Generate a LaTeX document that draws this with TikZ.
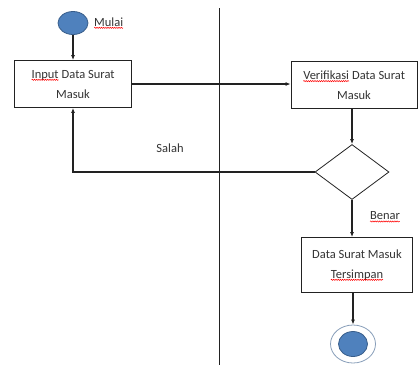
\documentclass[tikz,border=0pt]{standalone}
\usepackage{fontspec}
\setmainfont{Carlito}
\usepackage{xcolor}
\usetikzlibrary{positioning,arrows.meta,shapes.geometric,decorations.pathmorphing}

\definecolor{birumuda}{HTML}{4F81BD}
\definecolor{birutua}{HTML}{385D8A}
\definecolor{garis}{HTML}{222222}
\definecolor{teks}{HTML}{333333}

% kata dengan garis ejaan merah
\newcommand{\ejaan}[1]{\tikz[baseline=(w.base)]{%
  \node[inner sep=0pt, outer sep=0pt, draw=none, fill=none, rectangle,
        minimum width=0pt, minimum height=0pt] (w) {#1};
  \draw[red, line width=0.5pt, decorate, decoration={snake, amplitude=0.6pt, segment length=2.2pt}]
    ([yshift=-1.8pt]w.base west) -- ([yshift=-1.8pt]w.base east);}}

\begin{document}
\begin{tikzpicture}[
  x=1pt, y=-1pt,
  kotak/.style={rectangle, draw=garis, line width=0.8pt, align=center,
                font=\fontsize{12.5}{20}\selectfont, text=teks, inner sep=2pt},
  awal/.style={ellipse, draw=birutua, fill=birumuda, line width=0.8pt},
  keputusan/.style={diamond, draw=garis, line width=0.8pt, inner sep=0pt},
  panah/.style={-{Latex[length=5pt,width=4pt]}, line width=1.4pt, draw=garis},
  label/.style={font=\fontsize{12.5}{14}\selectfont, text=teks}
]
\useasboundingbox (0,0) rectangle (419,365);

% Swimlane
\draw[line width=0.8pt, draw=garis] (219,8) -- (219,365);

% Node
\node[awal, minimum width=30pt, minimum height=23pt] (mulai) at (73,23) {};
\node[label, right=2pt of mulai] (lmulai) {\ejaan{Mulai}};
\node[kotak, minimum width=117pt, minimum height=47pt] (input) at (73,84) {\ejaan{Input} Data Surat\\Masuk};
\node[kotak, minimum width=126pt, minimum height=47pt] (verif) at (354,85) {\ejaan{Verifikasi} Data Surat\\Masuk};
\node[keputusan, minimum width=74pt, minimum height=55pt] (cek) at (352,172) {};
\node[kotak, minimum width=111pt, minimum height=55pt] (simpan) at (357,265) {Data Surat Masuk\\\ejaan{Tersimpan}};
\node[ellipse, draw=birutua!60, line width=0.8pt, minimum width=45pt, minimum height=38pt] (selesai) at (353,344) {};
\node[awal, minimum width=29pt, minimum height=25pt] (selesaiisi) at (353,344) {};

% Panah
\draw[panah] (mulai) -- (input);
\draw[panah] (input.east) -- (input.east -| verif.west);
\draw[panah] (cek.north |- verif.south) -- (cek.north);
\draw[panah] (cek.west) -| (input.south);
\draw[panah] (cek.south) -- (cek.south |- simpan.north);
\draw[panah] (selesai.north |- simpan.south) -- (selesai.north);

% Label
\node[label] (lsalah) at (170,148) {Salah};
\node[label] (lbenar) at (385,217) {\ejaan{Benar}};
\end{tikzpicture}
\end{document}
